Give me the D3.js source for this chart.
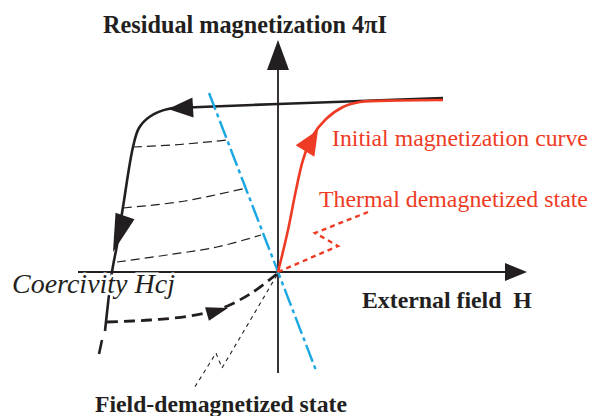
<!DOCTYPE html>
<html>
<head>
<meta charset="utf-8">
<script src="https://cdn.jsdelivr.net/npm/d3@7"></script>
<style>
  html, body { margin: 0; padding: 0; background: #fff; }
  svg { display: block; }
</style>
</head>
<body>
<div id="chart"></div>
<script>
// ---- Data (schematic units: H = external field, M = residual magnetization 4πI) ----
const axisH = [-10, 12.45];          // extent of the H axis (arrow tip at right end)
const axisM = [-5.05, 11.6];         // extent of the M axis (arrow tip at top end)

// major demagnetization loop (descending from saturation through coercivity)
const majorLoop = [[8.25,8.7],[4.1,8.55],[0,8.4],[-3.9,8.25],[-5.5,8.15],[-6.4,7.775],[-6.95,7.2],
  [-7.25,6.25],[-7.75,3.25],[-8.05,1.35],[-8.3,0],[-8.65,-2.95]];
const majorLoopTail = [[-8.8,-3.4],[-8.95,-4.1]];

// recoil lines (thin dashed) from the loop to the load line
const recoil1 = [[-7.25,6.25],[-4.9,6.375],[-2.55,6.6]];
const recoil2 = [[-7.75,3.2],[-4.65,3.55],[-1.6,4.2]];
const recoil3 = [[-8.05,0.5],[-5.55,0.85],[-3.05,1.25],[-0.85,1.85]];

// load line (blue dash-dot)
const loadLine = [[-3.45,8.95],[1.95,-5.05]];

// initial magnetization curve (red)
const initialCurve = [[0,0],[0.5,2.1],[0.9,4.1],[1.25,5.6],[1.7,6.75],[2.4,7.65],[3.25,8.25],
  [4.1,8.5],[6.1,8.575],[8.25,8.6]];

// thermal demagnetized state pointer (red dotted zig-zag)
const thermalPointer = [[0,0],[3,1.3],[1.85,1.95],[4.5,3.0]];

// field demagnetization path (thick dashed)
const fieldDemagPath = [[-8.55,-2.5],[-6.4,-2.4],[-4.4,-2.2],[-2.9,-1.85],[-1.4,-1.1],[0,-0.05]];

// field-demagnetized state pointer (thin dotted zig-zag)
const fieldPointer = [[-0.05,-0.15],[-2.8,-4.8],[-3.1,-4.05],[-4.25,-5.9]];

// arrowheads: [tip, base]
const arrowTop = [[-5.5,8.15],[-4.25,8.22]];
const arrowDown = [[-8.25,1.0],[-7.65,2.8]];
const arrowRed = [[2.0,7.1],[1.35,6.05]];
const arrowField = [[-2.5,-1.8],[-3.55,-2.1]];

// labels
const titleLabel = "Residual magnetization 4\u03C0I";
const xLabel = "External field\u00A0 H";
const initialLabel = "Initial magnetization curve";
const thermalLabel = "Thermal demagnetized state";
const coercivityLabel = "Coercivity Hcj";
const fieldLabel = "Field-demagnetized state";

// ---- Drawing ----
const W = 594, H = 416;
const BLACK = "#231f20", RED = "#ee3b24", BLUE = "#1ba7e1";
const svg = d3.select("#chart").append("svg").attr("width", W).attr("height", H);

const x = d3.scaleLinear().domain(axisH).range([78, 527]);
const y = d3.scaleLinear().domain(axisM).range([373, 40]);

const curve = d3.line().x(d => x(d[0])).y(d => y(d[1])).curve(d3.curveCatmullRom.alpha(0.5));
const straight = d3.line().x(d => x(d[0])).y(d => y(d[1]));

function arrow(a, hw, color) {
  const tx = x(a[0][0]), ty = y(a[0][1]), bx = x(a[1][0]), by = y(a[1][1]);
  const dx = tx - bx, dy = ty - by, L = Math.hypot(dx, dy);
  const px = -dy / L * hw, py = dx / L * hw;
  svg.append("path")
    .attr("d", `M${tx},${ty}L${bx + px},${by + py}L${bx - px},${by - py}Z`)
    .attr("fill", color);
}

// axes
const g0 = svg.append("g");
g0.append("path").attr("d", straight([[axisH[0], 0], [11.35, 0]]))
  .attr("stroke", BLACK).attr("stroke-width", 1.8).attr("fill", "none");
g0.append("path").attr("d", straight([[0, axisM[0]], [0, 10.1]]))
  .attr("stroke", BLACK).attr("stroke-width", 1.8).attr("fill", "none");
arrow([[axisH[1], 0], [11.35, 0]], 9, BLACK);
arrow([[0, axisM[1]], [0, 10.1]], 11, BLACK);

// recoil lines
[recoil1, recoil2, recoil3].forEach(r => {
  svg.append("path").attr("d", curve(r)).attr("fill", "none")
    .attr("stroke", BLACK).attr("stroke-width", 1.2).attr("stroke-dasharray", "9,5");
});

// field-demagnetized pointer
svg.append("path").attr("d", straight(fieldPointer)).attr("fill", "none")
  .attr("stroke", BLACK).attr("stroke-width", 1.1).attr("stroke-dasharray", "4,4");

// field demagnetization path
svg.append("path").attr("d", curve(fieldDemagPath)).attr("fill", "none")
  .attr("stroke", BLACK).attr("stroke-width", 2.8).attr("stroke-dasharray", "11,6");
arrow(arrowField, 7, BLACK);

// major loop
svg.append("path").attr("d", curve(majorLoop)).attr("fill", "none")
  .attr("stroke", BLACK).attr("stroke-width", 2.6).attr("stroke-linejoin", "round");
svg.append("path").attr("d", straight(majorLoopTail)).attr("fill", "none")
  .attr("stroke", BLACK).attr("stroke-width", 2.6);
arrow(arrowTop, 10, BLACK);
arrow(arrowDown, 10, BLACK);

// load line
svg.append("path").attr("d", straight(loadLine)).attr("fill", "none")
  .attr("stroke", BLUE).attr("stroke-width", 2.4).attr("stroke-dasharray", "18,4,4,4");

// initial magnetization curve
svg.append("path").attr("d", curve(initialCurve)).attr("fill", "none")
  .attr("stroke", RED).attr("stroke-width", 2.6);
arrow(arrowRed, 11, RED);

// thermal pointer
svg.append("path").attr("d", straight(thermalPointer)).attr("fill", "none")
  .attr("stroke", RED).attr("stroke-width", 2.4).attr("stroke-dasharray", "5,4");

// text helper: fit to measured width from the picture
function label(txt, x0, base, width, opts) {
  const t = svg.append("text").attr("x", x0).attr("y", base).text(txt)
    .attr("font-family", "'Liberation Serif', 'Times New Roman', serif")
    .attr("font-size", 20)
    .attr("font-weight", opts.bold ? "bold" : "normal")
    .attr("font-style", opts.italic ? "italic" : "normal")
    .attr("fill", opts.color || BLACK);
  const w = t.node().getComputedTextLength();
  t.attr("font-size", 20 * width / w);
  if (opts.halo) t.attr("stroke", "#fff").attr("stroke-width", 5).attr("paint-order", "stroke");
  return t;
}

label(titleLabel, 103, 33, 284, { bold: true });
label(initialLabel, 332, 146, 256, { color: RED });
label(thermalLabel, 319, 207, 269, { color: RED });
label(xLabel, 362, 308, 170, { bold: true });
label(coercivityLabel, 12, 293, 163, { italic: true, halo: true });
label(fieldLabel, 95, 412, 252, { bold: true });
</script>
</body>
</html>
